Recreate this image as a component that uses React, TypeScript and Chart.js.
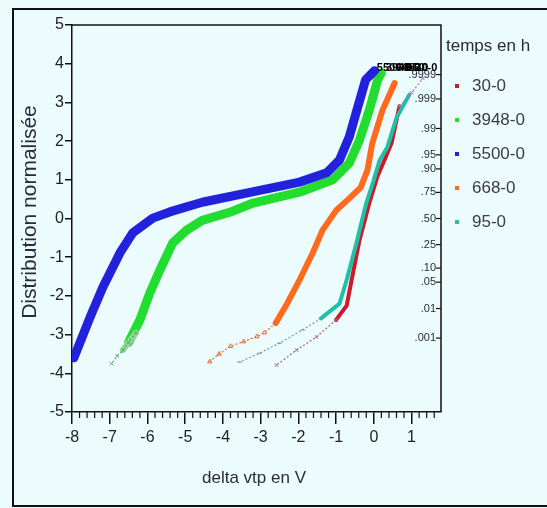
import React, { useEffect, useRef } from 'react';
import { Chart, registerables } from 'chart.js';
Chart.register(...registerables);

const FONT = "'Liberation Sans', Arial, sans-serif";

// series names and colours (legend order)
const seriesNames = ['30-0', '3948-0', '5500-0', '668-0', '95-0'];
const seriesColors = ['#d0182a', '#22dd30', '#2222dd', '#ff6a1e', '#1fc0a6'];

// 5500-0 (blue)
const blueX = [-7.95, -7.52, -7.18, -6.73, -6.39, -5.86, -5.41, -4.55, -3.25, -1.97, -1.25, -0.91, -0.65, -0.42, -0.22, 0.02];
const blueY = [-3.6, -2.55, -1.77, -0.89, -0.37, 0.01, 0.17, 0.42, 0.68, 0.94, 1.18, 1.51, 2.11, 2.9, 3.58, 3.82];

// 3948-0 (green)
const greenX = [-6.5, -6.2, -5.94, -5.67, -5.33, -4.96, -4.55, -3.82, -3.2, -1.97, -1.09, -0.65, -0.38, -0.12, 0.1, 0.2];
const greenY = [-3.2, -2.62, -1.93, -1.33, -0.63, -0.3, -0.05, 0.16, 0.4, 0.68, 1.0, 1.43, 2.03, 2.8, 3.58, 3.76];
const greenTailX = [-6.3, -6.5, -6.65, -6.8, -6.95];
const greenTailY = [-2.95, -3.2, -3.4, -3.55, -3.75];

// 668-0 (orange)
const orangeX = [-2.6, -2.3, -1.97, -1.62, -1.36, -0.99, -0.65, -0.35, -0.17, -0.04, 0.23, 0.47, 0.55];
const orangeY = [-2.7, -2.2, -1.59, -0.89, -0.3, 0.22, 0.52, 0.8, 1.25, 1.95, 2.8, 3.32, 3.5];
const orangeTailX = [-2.6, -2.9, -3.1, -3.45, -3.8, -4.1, -4.35];
const orangeTailY = [-2.7, -2.95, -3.05, -3.18, -3.3, -3.5, -3.7];

// 95-0 (teal)
const tealX = [-1.4, -0.91, -0.72, -0.46, -0.2, 0.0, 0.15, 0.36, 0.6, 0.94];
const tealY = [-2.58, -2.2, -1.59, -0.63, 0.4, 1.0, 1.5, 1.85, 2.6, 3.2];
const tealTailX = [-1.4, -1.89, -2.5, -3.03, -3.56];
const tealTailY = [-2.58, -2.88, -3.22, -3.48, -3.71];

// 30-0 (red)
const redX = [-1.0, -0.72, -0.59, -0.38, -0.12, 0.1, 0.3, 0.47, 0.68];
const redY = [-2.62, -2.25, -1.59, -0.56, 0.4, 1.1, 1.55, 1.95, 2.9];
const redTailX = [-1.0, -1.52, -2.05, -2.58];
const redTailY = [-2.62, -3.06, -3.4, -3.79];
const redTopX = [0.68, 1.0, 1.3];
const redTopY = [2.9, 3.25, 3.62];

// axis ticks
const xTicks = [-8, -7, -6, -5, -4, -3, -2, -1, 0, 1];
const yTicks = [-5, -4, -3, -2, -1, 0, 1, 2, 3, 4, 5];
const probLabels = ['.001', '.01', '.05', '.10', '.25', '.50', '.75', '.90', '.95', '.99', '.999', '.9999'];
const probZ = [-3.09, -2.326, -1.645, -1.282, -0.674, 0, 0.674, 1.282, 1.645, 2.326, 3.09, 3.719];

// end-of-curve labels (drawn at top)
const endLabels = ['5500-0', '3948-0', '668-0', '95-0', '30-0'];
const endLabelX = [0.08, 0.32, 0.6, 0.86, 1.1];
const endLabelY = 3.88;

const pts = (xs: number[], ys: number[]) => xs.map((x, i) => ({ x, y: ys[i] }));

const deco = {
  id: 'deco',
  beforeDraw(chart: any) {
    const ctx = chart.ctx;
    ctx.save();
    ctx.strokeStyle = '#111';
    ctx.lineWidth = 2;
    ctx.beginPath();
    ctx.moveTo(547, 9);
    ctx.lineTo(13, 9);
    ctx.lineTo(13, 506);
    ctx.lineTo(547, 506);
    ctx.stroke();
    ctx.restore();
  },
  afterDraw(chart: any) {
    const ctx = chart.ctx;
    const xs = chart.scales.x;
    const ys = chart.scales.y;
    const a = chart.chartArea;
    ctx.save();
    // top & right frame
    ctx.strokeStyle = '#111';
    ctx.lineWidth = 1.5;
    ctx.beginPath();
    ctx.moveTo(a.left, a.top);
    ctx.lineTo(a.right, a.top);
    ctx.lineTo(a.right, a.bottom);
    ctx.stroke();
    // minor x ticks
    ctx.lineWidth = 1.2;
    for (let k = 0; k <= 48; k++) {
      if (k % 5 === 0) continue;
      const v = -8 + k * 0.2;
      if (v > xs.max) break;
      const px = xs.getPixelForValue(v);
      ctx.beginPath();
      ctx.moveTo(px, a.bottom);
      ctx.lineTo(px, a.bottom + 6);
      ctx.stroke();
    }
    // probability ticks on right axis
    ctx.fillStyle = '#2a2a3a';
    ctx.font = `11px ${FONT}`;
    ctx.textAlign = 'right';
    ctx.textBaseline = 'middle';
    probLabels.forEach((lab, i) => {
      const py = ys.getPixelForValue(probZ[i]);
      ctx.beginPath();
      ctx.moveTo(a.right - 5, py);
      ctx.lineTo(a.right, py);
      ctx.stroke();
      ctx.fillText(lab, a.right - 5, py);
    });
    // end labels
    ctx.fillStyle = '#000';
    ctx.font = `bold 11px ${FONT}`;
    ctx.textAlign = 'left';
    endLabels.forEach((lab, i) => {
      ctx.fillText(lab, xs.getPixelForValue(endLabelX[i]), ys.getPixelForValue(endLabelY));
    });
    // axis titles
    ctx.fillStyle = '#2a2a3a';
    ctx.font = `17px ${FONT}`;
    ctx.textAlign = 'center';
    ctx.fillText('delta vtp en V', 254, 478);
    ctx.save();
    ctx.translate(30, 212);
    ctx.rotate(-Math.PI / 2);
    ctx.font = `21px ${FONT}`;
    ctx.fillText('Distribution normalisée', 0, 0);
    ctx.restore();
    // legend
    ctx.save();
    ctx.beginPath();
    ctx.rect(445, 20, 110, 50);
    ctx.clip();
    ctx.font = `17px ${FONT}`;
    ctx.textAlign = 'left';
    ctx.fillStyle = '#2a2a3a';
    ctx.fillText('temps en h', 446, 46);
    ctx.restore();
    ctx.font = `17px ${FONT}`;
    ctx.textAlign = 'left';
    seriesNames.forEach((name, i) => {
      const cy = 86 + i * 34;
      ctx.fillStyle = seriesColors[i];
      ctx.fillRect(455, cy - 2, 4, 4);
      ctx.fillStyle = '#3a3a4a';
      ctx.fillText(name, 472, cy);
    });
    ctx.restore();
  },
};

export default function App() {
  const ref = useRef<HTMLCanvasElement>(null);
  useEffect(() => {
    if (!ref.current) return;
    const band = (data: any, color: string, w: number) => ({
      data, showLine: true, borderColor: color, borderWidth: w, pointRadius: 0,
      borderJoinStyle: 'round', borderCapStyle: 'round', fill: false,
    });
    const tail = (data: any, color: string, style: string, w = 1.2) => ({
      data, showLine: true, borderColor: color, borderWidth: w, borderDash: [2, 2],
      pointRadius: 2.5, pointStyle: style, pointBorderColor: color, pointBackgroundColor: 'transparent',
      pointBorderWidth: 1, fill: false,
    });
    const chart = new Chart(ref.current, {
      type: 'scatter',
      data: {
        datasets: [
          tail(pts(greenTailX, greenTailY), '#5aa86a', 'crossRot'),
          band(pts(greenTailX.slice(0, 3), greenTailY.slice(0, 3)), '#8fd89a', 6),
          tail(pts(orangeTailX, orangeTailY), '#e0703a', 'triangle'),
          tail(pts(tealTailX, tealTailY), '#6a9ab8', 'line'),
          tail(pts(redTailX, redTailY), '#a06878', 'crossRot'),
          tail(pts(redTopX, redTopY), '#b070b0', 'crossRot'),
          band(pts(blueX, blueY), seriesColors[2], 9),
          band(pts(greenX, greenY), seriesColors[1], 9),
          band(pts(orangeX, orangeY), seriesColors[3], 6),
          band(pts(tealX, tealY), seriesColors[4], 4),
          band(pts(redX, redY), seriesColors[0], 4),
        ] as any,
      },
      options: {
        animation: false,
        responsive: false,
        events: [],
        layout: { padding: { left: 0, top: 25, right: 106, bottom: 0 } },
        plugins: { legend: { display: false }, tooltip: { enabled: false } },
        scales: {
          x: {
            type: 'linear', min: -8, max: 1.78,
            afterBuildTicks: (s: any) => { s.ticks = xTicks.map((v) => ({ value: v })); },
            afterFit: (s: any) => { s.height = 508 - 412; },
            ticks: { font: { family: FONT, size: 16 }, color: '#222', padding: 4, maxRotation: 0, autoSkip: false },
            grid: { drawOnChartArea: false, drawTicks: true, tickLength: 12, color: '#111', lineWidth: 1.5 },
            border: { color: '#111', width: 1.5 },
          },
          y: {
            type: 'linear', min: -5, max: 5,
            afterBuildTicks: (s: any) => { s.ticks = yTicks.map((v) => ({ value: v })); },
            afterFit: (s: any) => { s.width = 72; },
            ticks: { font: { family: FONT, size: 16 }, color: '#222', padding: 1 },
            grid: { drawOnChartArea: false, drawTicks: true, tickLength: 7, color: '#111', lineWidth: 1.5 },
            border: { color: '#111', width: 1.5 },
          },
        },
      },
      plugins: [deco],
    });
    return () => chart.destroy();
  }, []);
  return (
    <div style={{ position: 'fixed', left: 0, top: 0, width: 547, height: 508, background: '#ecfcfc' }}>
      <canvas ref={ref} width={547} height={508} style={{ width: 547, height: 508, display: 'block' }} />
    </div>
  );
}
